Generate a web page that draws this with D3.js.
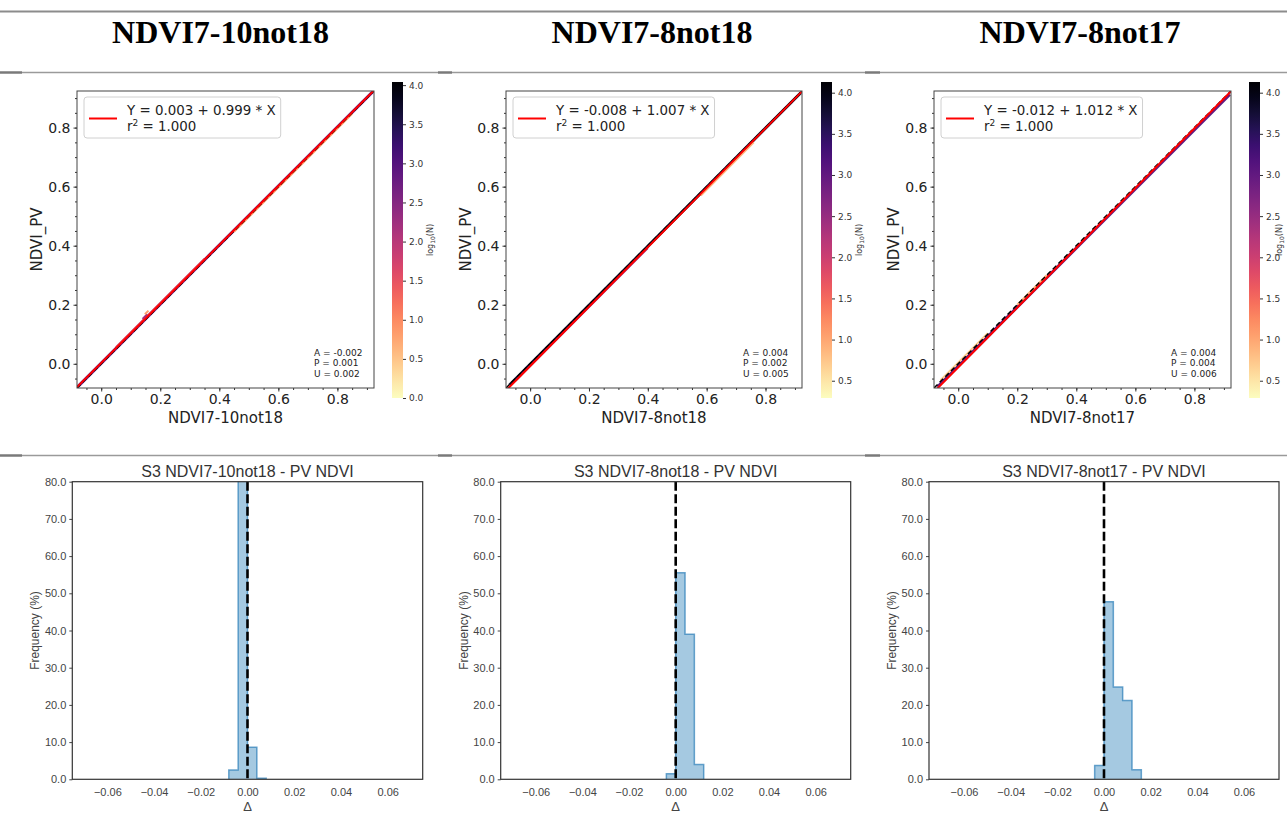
<!DOCTYPE html>
<html>
<head>
<meta charset="utf-8">
<script src="https://cdn.jsdelivr.net/npm/d3@7"></script>
<style>
  body { margin: 0; background: #fff; }
  svg { display: block; }
</style>
</head>
<body>
<svg id="chart" width="1287" height="832"></svg>
<script>
// ---- data ----
const headers = ["NDVI7-10not18", "NDVI7-8not18", "NDVI7-8not17"];
const intercepts = [0.003, -0.008, -0.012];
const slopes = [0.999, 1.007, 1.012];
const r2Values = ["1.000", "1.000", "1.000"];
const statA = ["-0.002", "0.004", "0.004"];
const statP = ["0.001", "0.002", "0.004"];
const statU = ["0.002", "0.005", "0.006"];
const scatterDomain = [-0.082, 0.924];
const scatterTicks = [0.0, 0.2, 0.4, 0.6, 0.8];
const cbarDomains = [[0, 4.04], [0.29, 4.13], [0.29, 4.13]];
const cbarTicks = [
  [0, 0.5, 1, 1.5, 2, 2.5, 3, 3.5, 4],
  [0.5, 1, 1.5, 2, 2.5, 3, 3.5, 4],
  [0.5, 1, 1.5, 2, 2.5, 3, 3.5, 4]
];
// density along the diagonal: [x start, x end, offset from 1:1, log10(N)]
const densityBands = [
  [[-0.08, 0.92, 0.002, 2.9], [0.05, 0.35, 0.006, 1.6], [0.45, 0.85, -0.003, 0.7],
   [0.140, 0.156, 0.012, 2.2], [0.148, 0.160, 0.020, 0.8]],
  [[-0.07, 0.92, -0.002, 3.9], [-0.05, 0.40, -0.008, 2.4], [0.58, 0.76, -0.010, 0.9]],
  [[-0.07, 0.92, -0.008, 3.0], [-0.06, 0.10, 0.004, 0.7], [0.20, 0.30, 0.000, 0.9]]
];
const histTitles = ["S3 NDVI7-10not18 - PV NDVI", "S3 NDVI7-8not18 - PV NDVI", "S3 NDVI7-8not17 - PV NDVI"];
const histEdges = [
  [-0.008, -0.004, 0.000, 0.004, 0.008],
  [-0.004, 0.000, 0.004, 0.008, 0.012],
  [-0.004, 0.000, 0.004, 0.008, 0.012, 0.016]
];
const histFreq = [
  [2.5, 88.6, 8.6, 0.3],
  [1.5, 55.5, 39.0, 4.0],
  [3.7, 47.7, 24.8, 21.2, 2.6]
];
const histDomainX = [-0.075, 0.075];
const histDomainY = [0, 80];
const histTicksX = [-0.06, -0.04, -0.02, 0.00, 0.02, 0.04, 0.06];
const histTicksY = [0, 10, 20, 30, 40, 50, 60, 70, 80];

// ---- layout ----
const headerX = [220.5, 652, 1080];
const scatterX = [[77, 374], [506, 802], [934, 1231]];
const scatterY = [91, 388];
const cbarX = [392, 821, 1249];
const cbarW = 11, cbarY = [82, 398];
const histX = [[72.3, 422.7], [500.7, 850.7], [929, 1279]];
const histY = [481.7, 779.3];

const svg = d3.select("#chart");
const defs = svg.append("defs");

// table rules
svg.append("line").attr("x1", 0).attr("x2", 1287).attr("y1", 11.5).attr("y2", 11.5)
  .attr("stroke", "#8c8c8c").attr("stroke-width", 2);
[72.5, 455.5].forEach(y => {
  svg.append("line").attr("x1", 0).attr("x2", 1287).attr("y1", y).attr("y2", y)
    .attr("stroke", "#9a9a9a").attr("stroke-width", 1.3);
  [[0, 22], [438, 452], [865, 880]].forEach(s => {
    svg.append("line").attr("x1", s[0]).attr("x2", s[1]).attr("y1", y).attr("y2", y)
      .attr("stroke", "#7a7a7a").attr("stroke-width", 2.4);
  });
});

// column headers
svg.selectAll("text.hdr").data(headers).join("text")
  .attr("class", "hdr")
  .attr("x", (d, i) => headerX[i]).attr("y", 42.5)
  .attr("text-anchor", "middle")
  .style("font-family", "'Liberation Serif', 'DejaVu Serif', serif")
  .style("font-weight", "bold").style("font-size", "32px")
  .attr("fill", "#000")
  .text(d => d);

// reversed magma gradient for the colour bars
const grad = defs.append("linearGradient").attr("id", "magmaR")
  .attr("x1", 0).attr("y1", 1).attr("x2", 0).attr("y2", 0);
d3.range(0, 1.0001, 0.05).forEach(t => {
  grad.append("stop").attr("offset", t).attr("stop-color", d3.interpolateMagma(1 - t));
});

headers.forEach((name, i) => {
  // ---------- scatter / density panel ----------
  const x = d3.scaleLinear().domain(scatterDomain).range(scatterX[i]);
  const y = d3.scaleLinear().domain(scatterDomain).range([scatterY[1], scatterY[0]]);
  const cb = d3.scaleLinear().domain(cbarDomains[i]).range([cbarY[1], cbarY[0]]);
  const colorOf = v => d3.interpolateMagma(1 - (v - cbarDomains[i][0]) / (cbarDomains[i][1] - cbarDomains[i][0]));

  defs.append("clipPath").attr("id", "sclip" + i).append("rect")
    .attr("x", scatterX[i][0]).attr("y", scatterY[0])
    .attr("width", scatterX[i][1] - scatterX[i][0]).attr("height", scatterY[1] - scatterY[0]);

  const g = svg.append("g");
  const plot = g.append("g").attr("clip-path", `url(#sclip${i})`);

  plot.selectAll("line.dens").data(densityBands[i]).join("line")
    .attr("class", "dens")
    .attr("x1", d => x(d[0])).attr("y1", d => y(d[0] + d[2]))
    .attr("x2", d => x(d[1])).attr("y2", d => y(d[1] + d[2]))
    .attr("stroke", d => colorOf(d[3]))
    .attr("stroke-width", (d, k) => k === 0 ? 3 : 2);

  // 1:1 line
  plot.append("line")
    .attr("x1", x(scatterDomain[0])).attr("y1", y(scatterDomain[0]))
    .attr("x2", x(scatterDomain[1])).attr("y2", y(scatterDomain[1]))
    .attr("stroke", "#000").attr("stroke-width", 1.5).attr("stroke-dasharray", "5,3");

  // regression line
  const reg = xv => intercepts[i] + slopes[i] * xv;
  plot.append("line")
    .attr("x1", x(scatterDomain[0])).attr("y1", y(reg(scatterDomain[0])))
    .attr("x2", x(scatterDomain[1])).attr("y2", y(reg(scatterDomain[1])))
    .attr("stroke", "#ff0000").attr("stroke-width", 2);

  // axes
  const minor = d3.range(-0.05, 0.92, 0.05).map(v => +v.toFixed(2));
  const xAxis = g.append("g").attr("transform", `translate(0,${scatterY[1]})`)
    .call(d3.axisBottom(x).tickValues(scatterTicks).tickFormat(d3.format(".1f")).tickSize(3.5).tickPadding(3));
  const yAxis = g.append("g").attr("transform", `translate(${scatterX[i][0]},0)`)
    .call(d3.axisLeft(y).tickValues(scatterTicks).tickFormat(d3.format(".1f")).tickSize(3.5).tickPadding(3));
  g.append("g").attr("transform", `translate(0,${scatterY[1]})`)
    .call(d3.axisBottom(x).tickValues(minor).tickFormat("").tickSize(2));
  g.append("g").attr("transform", `translate(${scatterX[i][0]},0)`)
    .call(d3.axisLeft(y).tickValues(minor).tickFormat("").tickSize(2));
  g.selectAll(".domain").remove();
  g.selectAll(".tick line").attr("stroke", "#333");
  [xAxis, yAxis].forEach(a => a.selectAll(".tick text")
    .style("font-family", "'DejaVu Sans', sans-serif").style("font-size", "14px").attr("fill", "#222"));

  g.append("rect")
    .attr("x", scatterX[i][0]).attr("y", scatterY[0])
    .attr("width", scatterX[i][1] - scatterX[i][0]).attr("height", scatterY[1] - scatterY[0])
    .attr("fill", "none").attr("stroke", "#444").attr("stroke-width", 1);

  g.append("text")
    .attr("x", (scatterX[i][0] + scatterX[i][1]) / 2).attr("y", 423)
    .attr("text-anchor", "middle")
    .style("font-family", "'DejaVu Sans', sans-serif").style("font-size", "15px").attr("fill", "#222")
    .text(name);
  g.append("text")
    .attr("transform", `translate(${scatterX[i][0] - 35},${(scatterY[0] + scatterY[1]) / 2}) rotate(-90)`)
    .attr("text-anchor", "middle")
    .style("font-family", "'DejaVu Sans', sans-serif").style("font-size", "15px").attr("fill", "#222")
    .text("NDVI_PV");

  // legend
  const lg = g.append("g").attr("transform", `translate(${scatterX[i][0] + 7},${scatterY[0] + 6})`);
  const lbox = lg.append("rect").attr("rx", 3).attr("ry", 3)
    .attr("fill", "#fff").attr("fill-opacity", 0.85).attr("stroke", "#d0d0d0").attr("stroke-width", 1);
  lg.append("line").attr("x1", 5).attr("x2", 33).attr("y1", 21.5).attr("y2", 21.5)
    .attr("stroke", "#ff0000").attr("stroke-width", 2);
  const sign = intercepts[i] < 0 ? "-" : "";
  const t1 = lg.append("text").attr("x", 43).attr("y", 17.5)
    .style("font-family", "'DejaVu Sans', sans-serif").style("font-size", "13.4px").attr("fill", "#222")
    .text(`Y = ${sign}${Math.abs(intercepts[i]).toFixed(3)} + ${slopes[i].toFixed(3)} * X`);
  const t2 = lg.append("text").attr("x", 43).attr("y", 33.5)
    .style("font-family", "'DejaVu Sans', sans-serif").style("font-size", "13.4px").attr("fill", "#222");
  t2.append("tspan").text("r");
  t2.append("tspan").attr("dy", -5).style("font-size", "9px").text("2");
  t2.append("tspan").attr("dy", 5).text(` = ${r2Values[i]}`);
  const bw = Math.max(t1.node().getComputedTextLength(), 60) + 43 + 5;
  lbox.attr("x", 0).attr("y", 0).attr("width", bw).attr("height", 41);

  // statistics
  const st = g.append("text")
    .style("font-family", "'DejaVu Sans', sans-serif").style("font-size", "9px").attr("fill", "#222");
  [`A = ${statA[i]}`, `P = ${statP[i]}`, `U = ${statU[i]}`].forEach((s, k) => {
    st.append("tspan").attr("x", scatterX[i][0] + 237).attr("y", 355.5 + k * 10.8).text(s);
  });

  // colour bar
  g.append("rect").attr("x", cbarX[i]).attr("y", cbarY[0]).attr("width", cbarW)
    .attr("height", cbarY[1] - cbarY[0]).attr("fill", "url(#magmaR)");
  const cbAxis = g.append("g").attr("transform", `translate(${cbarX[i] + cbarW},0)`)
    .call(d3.axisRight(cb).tickValues(cbarTicks[i]).tickFormat(d3.format(".1f")).tickSize(3).tickPadding(3));
  cbAxis.select(".domain").remove();
  cbAxis.selectAll(".tick line").attr("stroke", "#333");
  cbAxis.selectAll(".tick text")
    .style("font-family", "'DejaVu Sans', sans-serif").style("font-size", "9px").attr("fill", "#333");
  const clx = Math.min(cbarX[i] + cbarW + 30, 1282);
  const cl = g.append("text")
    .attr("transform", `translate(${clx},${(cbarY[0] + cbarY[1]) / 2}) rotate(-90)`)
    .attr("text-anchor", "middle")
    .style("font-family", "'DejaVu Sans', sans-serif").style("font-size", "8px").attr("fill", "#333");
  cl.append("tspan").text("log");
  cl.append("tspan").attr("dy", 2).style("font-size", "6px").text("10");
  cl.append("tspan").attr("dy", -2).text("(N)");

  // ---------- histogram panel ----------
  const hx = d3.scaleLinear().domain(histDomainX).range(histX[i]);
  const hy = d3.scaleLinear().domain(histDomainY).range([histY[1], histY[0]]);
  const hg = svg.append("g");

  defs.append("clipPath").attr("id", "hclip" + i).append("rect")
    .attr("x", histX[i][0]).attr("y", histY[0])
    .attr("width", histX[i][1] - histX[i][0]).attr("height", histY[1] - histY[0]);

  const pts = [[histEdges[i][0], 0]];
  histFreq[i].forEach((f, k) => {
    pts.push([histEdges[i][k], f]);
    pts.push([histEdges[i][k + 1], f]);
  });
  pts.push([histEdges[i][histEdges[i].length - 1], 0]);
  const step = d3.line().x(d => hx(d[0])).y(d => hy(d[1]));

  const hp = hg.append("g").attr("clip-path", `url(#hclip${i})`);
  hp.append("path").attr("d", step(pts))
    .attr("fill", "rgba(31,119,180,0.4)")
    .attr("stroke", "rgba(31,119,180,0.65)").attr("stroke-width", 1.5);
  hp.append("line").attr("x1", hx(0)).attr("x2", hx(0)).attr("y1", histY[0]).attr("y2", histY[1])
    .attr("stroke", "#000").attr("stroke-width", 2.6).attr("stroke-dasharray", "9,3.5");

  const hxa = hg.append("g").attr("transform", `translate(0,${histY[1]})`)
    .call(d3.axisBottom(hx).tickValues(histTicksX).tickFormat(d3.format(".2f")).tickSize(0).tickPadding(9));
  const hya = hg.append("g").attr("transform", `translate(${histX[i][0]},0)`)
    .call(d3.axisLeft(hy).tickValues(histTicksY).tickFormat(d3.format(".1f")).tickSize(3).tickPadding(3));
  hg.selectAll(".domain").remove();
  hg.selectAll(".tick line").attr("stroke", "#444");
  hg.selectAll(".tick text")
    .style("font-family", "'Liberation Sans', Arial, sans-serif").style("font-size", "11px").attr("fill", "#444");

  hg.append("rect")
    .attr("x", histX[i][0]).attr("y", histY[0])
    .attr("width", histX[i][1] - histX[i][0]).attr("height", histY[1] - histY[0])
    .attr("fill", "none").attr("stroke", "#333").attr("stroke-width", 1.2);

  hg.append("text")
    .attr("x", (histX[i][0] + histX[i][1]) / 2).attr("y", 477)
    .attr("text-anchor", "middle")
    .style("font-family", "'Liberation Sans', Arial, sans-serif").style("font-size", "16px").attr("fill", "#333")
    .text(histTitles[i]);
  hg.append("text")
    .attr("x", hx(0)).attr("y", 811)
    .attr("text-anchor", "middle")
    .style("font-family", "'Liberation Sans', Arial, sans-serif").style("font-size", "13px").attr("fill", "#444")
    .text("Δ");
  hg.append("text")
    .attr("transform", `translate(${histX[i][0] - 33},${(histY[0] + histY[1]) / 2}) rotate(-90)`)
    .attr("text-anchor", "middle")
    .style("font-family", "'Liberation Sans', Arial, sans-serif").style("font-size", "12px").attr("fill", "#444")
    .text("Frequency (%)");
});
</script>
</body>
</html>
